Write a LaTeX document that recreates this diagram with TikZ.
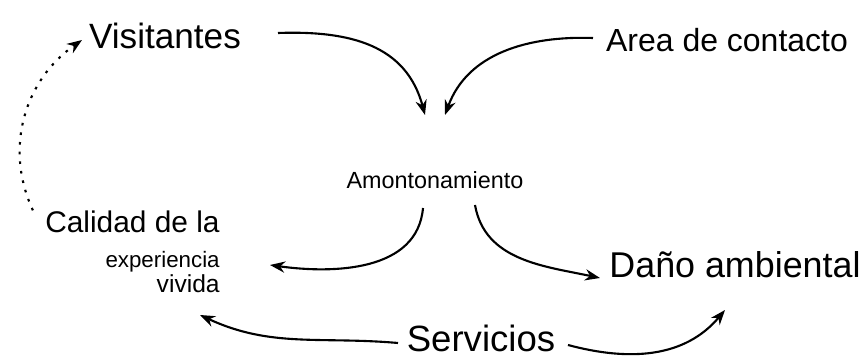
\documentclass[tikz,border=0pt]{standalone}
\usepackage{fontspec}
\setmainfont{Liberation Sans}
\usetikzlibrary{arrows.meta}
\tikzset{
  term/.style={inner sep=0pt, text=black},
  flow/.style={-{Stealth[length=3mm]}, line width=1.2pt, draw=black},
  hint/.style={-{Stealth[length=3mm]}, line width=1.2pt, draw=black, dash pattern=on 1.5pt off 4pt}
}

\begin{document}
\begin{tikzpicture}
  \useasboundingbox (0,0) rectangle (17.26,-7.14);
  \node[term, font=\fontsize{20}{24}\selectfont] (vis) at (3.30,-0.72) {Visitantes};
  \node[term, font=\fontsize{18.2}{22}\selectfont] (area) at (14.54,-0.80) {Area de contacto};
  \node[term, font=\fontsize{13.3}{16}\selectfont] (amon) at (8.70,-3.60) {Amontonamiento};
  \node[term, anchor=east, align=right, font=\fontsize{17}{20}\selectfont] (cal) at (4.40,-5.03)
    {Calidad de la\\[0pt]{\fontsize{12.7}{14}\selectfont experiencia}\\[-6pt]{\fontsize{14}{15}\selectfont vivida}};
  \node[term, font=\fontsize{20.4}{24}\selectfont] (dano) at (14.70,-5.30) {Daño ambiental};
  \node[term, font=\fontsize{20.8}{24}\selectfont] (serv) at (9.62,-6.76) {Servicios};

  \draw[flow] ([shift={(2.26,0.06)}]vis.center) to[out=2, in=105, looseness=1.1] ([shift={(-0.20,1.30)}]amon.center);
  \draw[flow] ([shift={(-2.68,0.04)}]area.center) to[out=178, in=70] ([shift={(0.20,1.30)}]amon.center);
  \draw[flow] ([shift={(-0.24,-0.56)}]amon.center) to[out=-95, in=-8] ([shift={(1.00,-0.27)}]cal.east);
  \draw[flow] ([shift={(0.80,-0.50)}]amon.center) to[out=-80, in=168] ([shift={(-2.70,-0.26)}]dano.center);
  \draw[flow] ([shift={(-1.66,-0.10)}]serv.center) to[out=175, in=-25] ([shift={(-0.40,-1.27)}]cal.east);
  \draw[flow] ([shift={(1.74,-0.14)}]serv.center) to[out=-15, in=-130] ([shift={(-0.20,-0.90)}]dano.center);
  \draw[hint] ([shift={(-0.24,0)}]cal.north west) to[out=115, in=-145] ([shift={(-1.66,-0.08)}]vis.center);
\end{tikzpicture}
\end{document}
